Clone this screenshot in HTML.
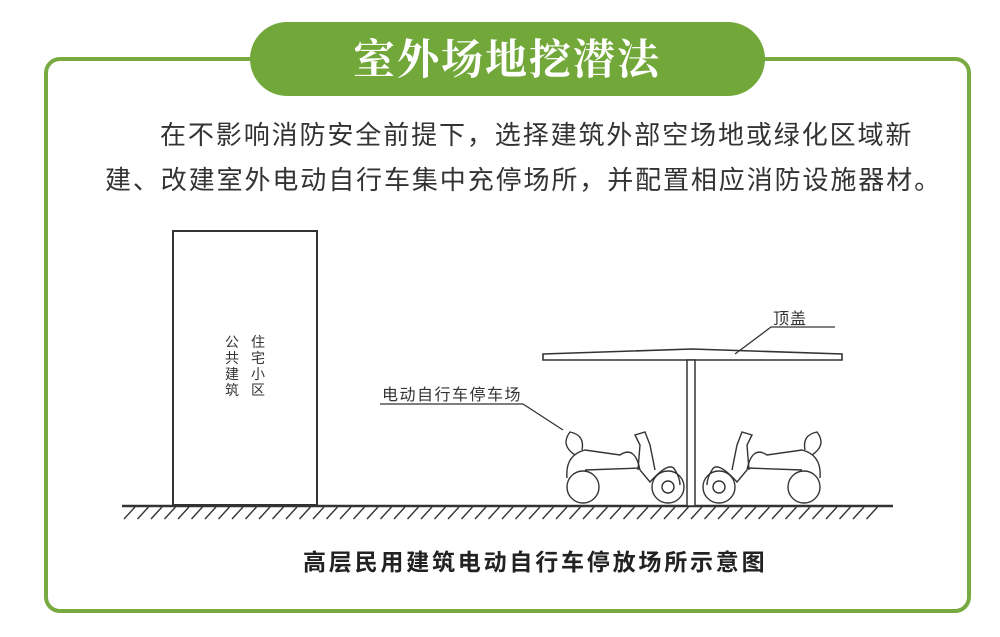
<!DOCTYPE html>
<html><head><meta charset="utf-8"><style>
body{margin:0;width:1000px;height:637px;background:#fff;overflow:hidden;position:relative;font-family:"Liberation Sans","Noto Sans CJK SC",sans-serif}
.t{position:absolute;color:#333;white-space:nowrap}
</style></head><body>
<svg width="1000" height="637" style="position:absolute;left:0;top:0">
<rect x="46" y="59" width="923" height="552" rx="14" fill="none" stroke="#78aa41" stroke-width="4"/>
<rect x="250" y="22" width="515" height="74" rx="37" fill="#72a83a"/>
<text x="507" y="74" text-anchor="middle" font-family="Noto Serif CJK SC,serif" font-weight="bold" font-size="42" fill="#fff" letter-spacing="2">室外场地挖潜法</text>
<rect x="173" y="231" width="144" height="274" fill="none" stroke="#333" stroke-width="2"/>
<line x1="122" y1="506" x2="893" y2="506" stroke="#333" stroke-width="2.5"/>
<g stroke="#333" stroke-width="1.4" id="hatch"></g>
<path d="M543 354 L692 349 L842 354 L842 360 L543 360 Z" fill="#fff" stroke="#333" stroke-width="1.6"/>
<rect x="687" y="360" width="8" height="146" fill="#fff" stroke="#333" stroke-width="1.5"/>
<polyline points="735,354 771,327 835,327" fill="none" stroke="#333" stroke-width="1.3"/>
<polyline points="380,404 523,404 563,430" fill="none" stroke="#333" stroke-width="1.3"/>
<g fill="none" stroke="#333" stroke-width="1.4" id="sc">
<circle cx="583" cy="487" r="16"/><circle cx="668" cy="487" r="16"/><circle cx="668" cy="487" r="6"/>
<path d="M567 478 Q565 455 585 450 L620 455 Q635 445 640 470 L650 482 Q670 460 675 470 Q680 478 680 485"/>
<path d="M575 455 Q560 445 570 432 Q585 435 582 450"/>
<path d="M638 470 L640 445 L635 435 L645 432 L650 445 L655 470"/>
<path d="M585 470 L640 468"/>
</g>
<use href="#sc" transform="translate(1387,0) scale(-1,1)"/>
</svg>
<script>
var g=document.getElementById('hatch'),s='';
for(var x=135;x<=890;x+=13.5){s+='<line x1="'+x+'" y1="507" x2="'+(x-11)+'" y2="519"/>';}
g.innerHTML=s;
</script>
<div class="t" style="left:160px;top:115px;font-size:26px;letter-spacing:1.9px">在不影响消防安全前提下，选择建筑外部空场地或绿化区域新</div>
<div class="t" style="left:105px;top:160px;font-size:26px;letter-spacing:1.9px">建、改建室外电动自行车集中充停场所，并配置相应消防设施器材。</div>
<div class="t" style="left:225px;top:334px;font-size:14px;line-height:16px;width:15px;white-space:normal">公共建筑</div>
<div class="t" style="left:251px;top:334px;font-size:14px;line-height:16px;width:15px;white-space:normal">住宅小区</div>
<div class="t" style="left:382px;top:381px;font-size:16px;letter-spacing:1.5px">电动自行车停车场</div>
<div class="t" style="left:773px;top:305px;font-size:16px;letter-spacing:1px">顶盖</div>
<div class="t" style="left:303px;top:543px;font-size:23px;letter-spacing:2.8px;font-weight:bold;color:#222">高层民用建筑电动自行车停放场所示意图</div>
</body></html>
